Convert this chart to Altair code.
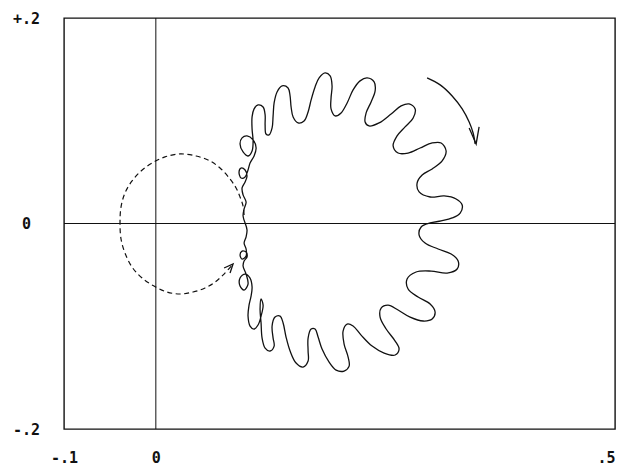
import altair as alt
import pandas as pd

# ---- wavy locus (solid), in plot units ----
curve_x = [0.0972, 0.0950, 0.0961, 0.0983, 0.0950, 0.0939, 0.0972, 0.0993, 0.0972, 0.0928,
           0.0906, 0.0928, 0.0972, 0.1004, 0.1026, 0.1070, 0.1092, 0.1059, 0.0993, 0.0939,
           0.0917, 0.0950, 0.1004, 0.1048, 0.1059, 0.1048, 0.1048, 0.1070, 0.1113, 0.1168,
           0.1190, 0.1190, 0.1200, 0.1233, 0.1266, 0.1277, 0.1288, 0.1320, 0.1375, 0.1440,
           0.1462, 0.1473, 0.1495, 0.1549, 0.1614, 0.1658, 0.1691, 0.1734, 0.1778, 0.1843,
           0.1898, 0.1919, 0.1908, 0.1908, 0.1952, 0.2017, 0.2083, 0.2148, 0.2224, 0.2301,
           0.2377, 0.2388, 0.2344, 0.2290, 0.2279, 0.2322, 0.2431, 0.2562, 0.2671, 0.2758,
           0.2824, 0.2802, 0.2714, 0.2627, 0.2584, 0.2638, 0.2747, 0.2878, 0.3009, 0.3107,
           0.3161, 0.3118, 0.3009, 0.2900, 0.2845, 0.2867, 0.2987, 0.3140, 0.3270, 0.3336,
           0.3314, 0.3227, 0.3107, 0.2987,
           0.2889, 0.2867, 0.2932, 0.3074, 0.3216, 0.3292, 0.3281, 0.3172, 0.2998, 0.2834,
           0.2736, 0.2747, 0.2856, 0.2987, 0.3041, 0.3009, 0.2911, 0.2769, 0.2638, 0.2529,
           0.2453, 0.2442, 0.2508, 0.2606, 0.2649, 0.2606, 0.2486, 0.2355, 0.2235, 0.2148,
           0.2083, 0.2039, 0.2050, 0.2094, 0.2105, 0.2050, 0.1963, 0.1887, 0.1810, 0.1767,
           0.1734, 0.1691, 0.1658, 0.1658, 0.1658, 0.1603, 0.1527, 0.1462, 0.1418, 0.1386,
           0.1353, 0.1298, 0.1266, 0.1277, 0.1288, 0.1244, 0.1190, 0.1157, 0.1146, 0.1135,
           0.1146, 0.1168, 0.1146, 0.1113, 0.1070, 0.1026, 0.1004, 0.1015, 0.1037, 0.1048,
           0.1026, 0.0972, 0.0917, 0.0917, 0.0961, 0.1004, 0.0983, 0.0950, 0.0961, 0.0993,
           0.0983, 0.0939, 0.0917, 0.0939, 0.0983, 0.0983, 0.0961, 0.0983, 0.0993, 0.0972]
curve_y = [0.0005, 0.0073, 0.0141, 0.0209, 0.0278, 0.0346, 0.0404, 0.0463, 0.0521, 0.0540,
           0.0501, 0.0443, 0.0453, 0.0521, 0.0589, 0.0657, 0.0735, 0.0813, 0.0852, 0.0833,
           0.0774, 0.0696, 0.0657, 0.0706, 0.0803, 0.0920, 0.1037, 0.1115, 0.1154, 0.1134,
           0.1057, 0.0959, 0.0871, 0.0862, 0.0930, 0.1047, 0.1173, 0.1280, 0.1339, 0.1319,
           0.1241, 0.1134, 0.1037, 0.0979, 0.0998, 0.1086, 0.1203, 0.1329, 0.1417, 0.1465,
           0.1436, 0.1339, 0.1222, 0.1115, 0.1047, 0.1076, 0.1173, 0.1300, 0.1388, 0.1417,
           0.1378, 0.1290, 0.1183, 0.1076, 0.0988, 0.0949, 0.0979, 0.1066, 0.1144, 0.1164,
           0.1115, 0.1027, 0.0940, 0.0852, 0.0755, 0.0686, 0.0686, 0.0735, 0.0784, 0.0784,
           0.0706, 0.0609, 0.0531, 0.0472, 0.0394, 0.0307, 0.0258, 0.0268, 0.0239, 0.0180,
           0.0102, 0.0054, 0.0025, 0.0005,
           -0.0034, -0.0112, -0.0190, -0.0248, -0.0297, -0.0365, -0.0443, -0.0482, -0.0463, -0.0472,
           -0.0540, -0.0638, -0.0716, -0.0784, -0.0862, -0.0930, -0.0949, -0.0911, -0.0842, -0.0794,
           -0.0823, -0.0911, -0.1027, -0.1144, -0.1222, -0.1280, -0.1261, -0.1193, -0.1086, -0.0998,
           -0.0979, -0.1047, -0.1173, -0.1300, -0.1388, -0.1436, -0.1427, -0.1349, -0.1222, -0.1105,
           -0.1027, -0.1027, -0.1115, -0.1241, -0.1339, -0.1397, -0.1358, -0.1241, -0.1105, -0.0969,
           -0.0901, -0.0911, -0.0998, -0.1115, -0.1193, -0.1241, -0.1212, -0.1115, -0.0969, -0.0833,
           -0.0735, -0.0794, -0.0901, -0.0988, -0.1027, -0.0998, -0.0901, -0.0794, -0.0706, -0.0618,
           -0.0531, -0.0492, -0.0531, -0.0609, -0.0648, -0.0589, -0.0492, -0.0414, -0.0365, -0.0326,
           -0.0278, -0.0268, -0.0307, -0.0346, -0.0316, -0.0248, -0.0190, -0.0131, -0.0063, 0.0005]

# ---- dashed locus ----
dash_x = [0.0961, 0.0950, 0.0917, 0.0874, 0.0808, 0.0710, 0.0590, 0.0438, 0.0264, 0.0100,
          -0.0041, -0.0161, -0.0259, -0.0336, -0.0379, -0.0390, -0.0379, -0.0336, -0.0259, -0.0150,
          -0.0020, 0.0122, 0.0264, 0.0405, 0.0536, 0.0645, 0.0743, 0.0841]
dash_y = [0.0083, 0.0170, 0.0258, 0.0346, 0.0433, 0.0531, 0.0609, 0.0657, 0.0677, 0.0648,
          0.0589, 0.0511, 0.0414, 0.0297, 0.0161, 0.0005, -0.0151, -0.0287, -0.0424, -0.0531,
          -0.0609, -0.0667, -0.0686, -0.0667, -0.0628, -0.0570, -0.0492, -0.0394]

# ---- direction arc (upper right) ----
arc_x = [0.2954, 0.3096, 0.3227, 0.3336, 0.3412, 0.3455, 0.3477]
arc_y = [0.1417, 0.1349, 0.1241, 0.1115, 0.0988, 0.0881, 0.0774]

# ---- arrow heads: barb, tip, barb ----
head_solid_x = [0.3412, 0.3488, 0.3520]
head_solid_y = [0.0930, 0.0774, 0.0940]
head_dash_x = [0.0743, 0.0841, 0.0808]
head_dash_y = [-0.0433, -0.0394, -0.0482]

zero = [0.0]

x_ticks = [-0.1, 0.0, 0.5]
x_labels = ["-.1", "0", ".5"]
y_ticks = [-0.2, 0.0, 0.2]
y_labels = ["-.2", "0", "+.2"]


def label_expr(vals, labs):
    parts = [f"abs(datum.value - ({v})) < 1e-9 ? '{l}'" for v, l in zip(vals, labs)]
    return " : ".join(parts) + " : ''"


FONT = "DejaVu Sans Mono"
INK = "#111111"

x_scale = alt.Scale(domain=[-0.1, 0.5], nice=False, zero=False)
y_scale = alt.Scale(domain=[-0.2, 0.2], nice=False, zero=False)

x_axis = alt.Axis(values=x_ticks, labelExpr=label_expr(x_ticks, x_labels), ticks=False, tickSize=0,
                  domain=False, grid=False, labelFlush=False, labelPadding=28, labelBaseline="middle",
                  labelAlign={"condition": {"test": "datum.value > 0.4", "value": "right"}, "value": "center"},
                  title=None, labelFont=FONT, labelFontWeight="bold", labelFontSize=15,
                  labelColor=INK, labelOverlap=False, labelBound=False)
y_axis = alt.Axis(values=y_ticks, labelExpr=label_expr(y_ticks, y_labels), ticks=False, tickSize=0,
                  domain=False, grid=False, labelPadding=38, labelAlign="center", labelBaseline="middle",
                  title=None, labelFont=FONT, labelFontWeight="bold", labelFontSize=15,
                  labelColor=INK, labelOverlap=False, labelBound=False)

X = alt.X("x:Q", scale=x_scale, axis=x_axis)
Y = alt.Y("y:Q", scale=y_scale, axis=y_axis)

curve_df = pd.DataFrame({"x": curve_x, "y": curve_y, "i": list(range(len(curve_x)))})
dash_df = pd.DataFrame({"x": dash_x, "y": dash_y, "i": list(range(len(dash_x)))})
arc_df = pd.DataFrame({"x": arc_x, "y": arc_y, "i": list(range(len(arc_x)))})
heads_df = pd.DataFrame({
    "x": head_solid_x + head_dash_x,
    "y": head_solid_y + head_dash_y,
    "g": ["solid"] * 3 + ["dash"] * 3,
    "i": [0, 1, 2, 0, 1, 2],
})

vline = alt.Chart(pd.DataFrame({"x": zero})).mark_rule(color=INK, strokeWidth=1).encode(x=X)
hline = alt.Chart(pd.DataFrame({"y": zero})).mark_rule(color=INK, strokeWidth=1).encode(y=Y)

curve = alt.Chart(curve_df).mark_line(color=INK, strokeWidth=1.3, strokeJoin="round",
                                      interpolate="catmull-rom").encode(x=X, y=Y, order="i:Q")
dashed = alt.Chart(dash_df).mark_line(color=INK, strokeWidth=1.2, strokeDash=[5, 3.5],
                                      interpolate="catmull-rom").encode(x=X, y=Y, order="i:Q")
arc = alt.Chart(arc_df).mark_line(color=INK, strokeWidth=1.3, interpolate="catmull-rom").encode(
    x=X, y=Y, order="i:Q")
heads = alt.Chart(heads_df).mark_line(color=INK, strokeWidth=1.3).encode(
    x=X, y=Y, detail="g:N", order="i:Q")

chart = alt.layer(vline, hline, dashed, curve, arc, heads).properties(
    width=551, height=411,
    autosize=alt.AutoSizeParams(type="none"),
    padding={"left": 56, "top": 10, "right": 4, "bottom": 40},
    background="white",
).configure_view(stroke=INK, strokeWidth=1.4)

chart.save("out.html", embed_options={"renderer": "svg", "actions": False})
